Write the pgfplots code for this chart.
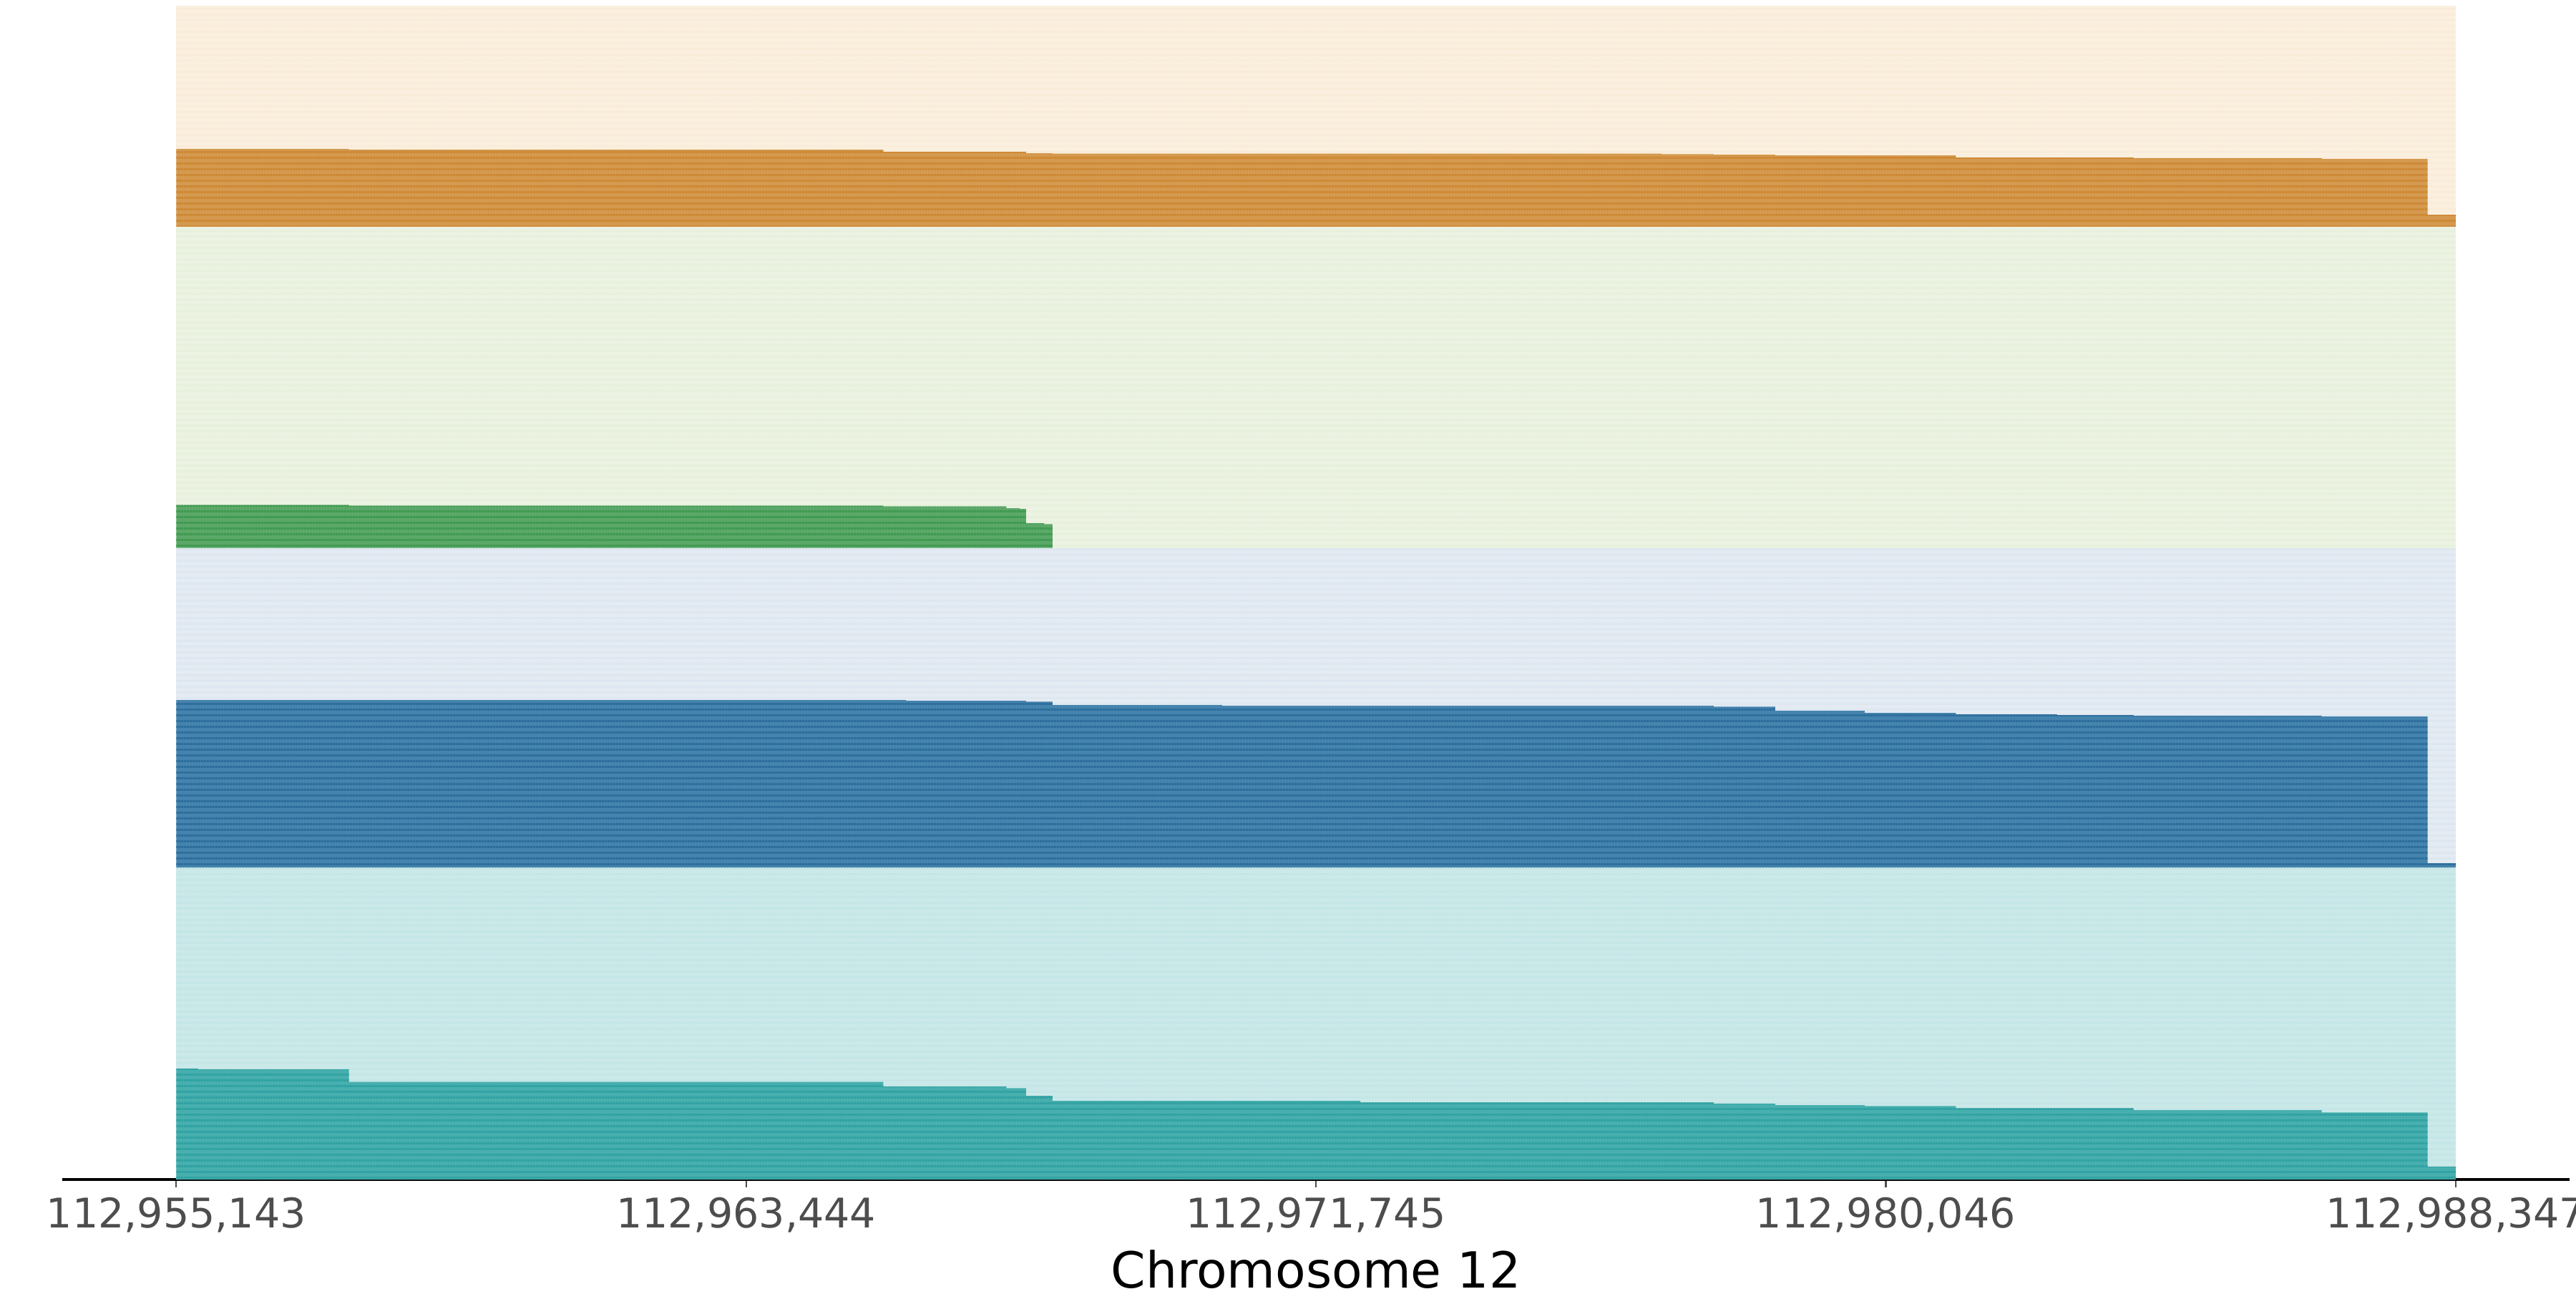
\documentclass[border=0pt]{standalone}
\usepackage{fontspec}
\setmainfont{DejaVu Sans}
\usepackage{pgfplots}
\pgfplotsset{compat=1.18}
\usetikzlibrary{patterns}

\definecolor{tealD}{HTML}{48AFAF}
\definecolor{tealS}{HTML}{30A1A1}
\definecolor{tealL}{HTML}{CBE9E9}
\definecolor{tealLS}{HTML}{C3E5E6}
\definecolor{blueD}{HTML}{4584AE}
\definecolor{blueS}{HTML}{2C6D9B}
\definecolor{blueL}{HTML}{E4EBF3}
\definecolor{blueLS}{HTML}{DDE6F0}
\definecolor{greenD}{HTML}{5BA868}
\definecolor{greenS}{HTML}{3F9950}
\definecolor{greenL}{HTML}{ECF3E2}
\definecolor{greenLS}{HTML}{E6F0DB}
\definecolor{orangeD}{HTML}{D59A4F}
\definecolor{orangeS}{HTML}{CD8833}
\definecolor{orangeL}{HTML}{FBF0E0}
\definecolor{orangeLS}{HTML}{F9EBD8}
\definecolor{tickgray}{HTML}{4D4D4D}

\pgfdeclarepatternformonly{hstripes}{\pgfpointorigin}{\pgfpoint{1pt}{1.944pt}}{\pgfpoint{1pt}{1.944pt}}{%
  \pgfpathrectangle{\pgfpointorigin}{\pgfpoint{1pt}{0.8pt}}\pgfusepath{fill}}

\begin{document}
\begin{tikzpicture}
\path[use as bounding box] (-20.88pt,-36.48pt) rectangle (843.12pt,395.52pt);
\begin{axis}[
  at={(0pt,0pt)}, anchor=south west,
  scale only axis,
  width=840.96pt, height=393.6pt,
  xmin=-1660.2, xmax=34864.2,
  ymin=0, ymax=1640,
  axis x line=bottom, axis y line=none,
  x axis line style={-, line width=1pt, black},
  scaled x ticks=false,
  xtick={0,8301,16602,24903,33204},
  xticklabels={{112,955,143},{112,963,444},{112,971,745},{112,980,046},{112,988,347}},
  tick align=outside,
  major tick length=2.6pt,
  every tick/.style={tickgray, line width=0.55pt},
  xticklabel style={font=\fontsize{13.7}{16}\selectfont, text=tickgray},
  xlabel={Chromosome 12},
  xlabel style={font=\fontsize{16.7}{19}\selectfont, text=black, yshift=1.2pt},
  clip=false,
]
% backgrounds (orange, green, blue, teal from top)
\addplot[fill=orangeL, draw=none, postaction={pattern=hstripes, pattern color=orangeLS}] coordinates {(0,1331.3) (33204,1331.3) (33204,1640) (0,1640)};
\addplot[fill=orangeD, draw=none, const plot, postaction={pattern=hstripes, pattern color=orangeS}] coordinates {
(0,1331.3) (0,1440) (2515,1439) (10299,1436) (12379,1434) (12764,1433.3) (21636,1432.7) (22396,1432) (23292,1431) (25924,1428) (28512,1427) (31253,1426) (32795,1348) (33204,1348) (33204,1331.3)};

\addplot[fill=greenL, draw=none, postaction={pattern=hstripes, pattern color=greenLS}] coordinates {(0,882.3) (33204,882.3) (33204,1331.3) (0,1331.3)};
\addplot[fill=greenD, draw=none, const plot, postaction={pattern=hstripes, pattern color=greenS}] coordinates {
(0,882.3) (0,942.5) (2515,941.3) (10299,940.3) (12091,938) (12289,937) (12379,917) (12643,915.7) (12764,882.3)};

\addplot[fill=blueL, draw=none, postaction={pattern=hstripes, pattern color=blueLS}] coordinates {(0,435.3) (33204,435.3) (33204,882.3) (0,882.3)};
\addplot[fill=blueD, draw=none, const plot, postaction={pattern=hstripes, pattern color=blueS}] coordinates {
(0,435.3) (0,670) (10632,669) (12379,667.7) (12764,663) (15238,662) (22396,660.7) (23292,655) (24595,652) (25924,650) (27397,649) (28512,648) (31253,647) (32795,442) (33204,442) (33204,435.3)};

\addplot[fill=tealL, draw=none, postaction={pattern=hstripes, pattern color=tealLS}] coordinates {(0,0) (33204,0) (33204,435.3) (0,435.3)};
\addplot[fill=tealD, draw=none, const plot, postaction={pattern=hstripes, pattern color=tealS}] coordinates {
(0,0) (0,155) (317,154) (2515,136.3) (10299,130) (12091,127.7) (12379,117) (12764,110) (17249,107.7) (22396,106) (23292,104) (24595,102.7) (25924,99.7) (28512,97) (31253,93.7) (32795,18) (33204,18) (33204,0)};
\end{axis}
\end{tikzpicture}
\end{document}
